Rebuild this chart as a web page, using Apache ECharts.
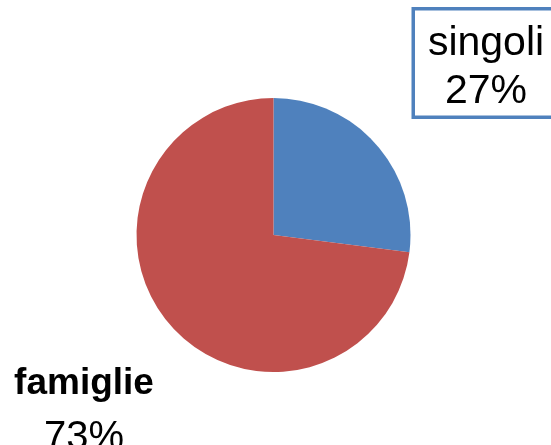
<!DOCTYPE html>
<html>
<head>
<meta charset="utf-8">
<script src="https://cdn.jsdelivr.net/npm/echarts@6/dist/echarts.min.js"></script>
<style>
  html, body { margin: 0; padding: 0; background: #fff; }
  #chart { width: 551px; height: 445px; }
</style>
</head>
<body>
<div id="chart"></div>
<script>
// Share of households: single persons vs families
const categories = ['singoli', 'famiglie'];
const values = [27, 73];
const colors = ['#4F81BD', '#C0504D'];

const chart = echarts.init(document.getElementById('chart'), null, { renderer: 'canvas' });

const data = categories.map((name, i) => ({
  name: name,
  value: values[i],
  itemStyle: { color: colors[i] }
}));

const fontFamily = 'Liberation Sans, Arial, sans-serif';

// singoli label: boxed, top right; famiglie label: bold name, bottom left
data[0].label = {
  formatter: '{n|{b}}\n{p|{d}%}',
  borderColor: '#4F81BD',
  borderWidth: 3.5,
  width: 142,
  padding: [9, 0, 0, 0],
  backgroundColor: '#fff',
  overflow: 'none',
  rich: {
    n: { fontFamily: fontFamily, fontSize: 41, lineHeight: 48, color: '#000', align: 'center' },
    p: { fontFamily: fontFamily, fontSize: 41, lineHeight: 48, color: '#000', align: 'center' }
  }
};
data[1].label = {
  formatter: '{n|{b}}\n{p|{d}%}',
  overflow: 'none',
  rich: {
    n: { fontFamily: fontFamily, fontSize: 37, fontWeight: 'bold', lineHeight: 54, color: '#000', align: 'center' },
    p: { fontFamily: fontFamily, fontSize: 40, lineHeight: 54, color: '#000', align: 'center' }
  }
};

const labelSpots = [
  { x: 486, y: 63, align: 'center', verticalAlign: 'middle' },
  { x: 84, y: 411, align: 'center', verticalAlign: 'middle' }
];

chart.setOption({
  animation: false,
  backgroundColor: '#fff',
  series: [{
    type: 'pie',
    center: [273.5, 235],
    radius: 137,
    startAngle: 90,
    clockwise: true,
    data: data,
    label: { show: true, position: 'outside', overflow: 'none', alignTo: 'none' },
    labelLine: { show: false },
    labelLayout: function (params) {
      return labelSpots[params.dataIndex];
    },
    emphasis: { disabled: true }
  }]
});
</script>
</body>
</html>
